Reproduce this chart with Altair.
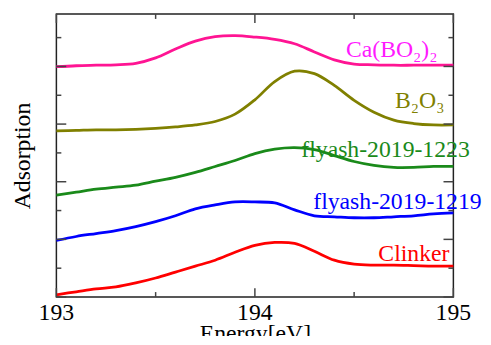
import altair as alt
import pandas as pd

energy = [193.0, 193.1, 193.2, 193.3, 193.4, 193.5, 193.6, 193.7, 193.8, 193.9,
          194.0, 194.1, 194.2, 194.3, 194.4, 194.5, 194.6, 194.7, 194.8, 194.9, 195.0]

ca_bo2 = [3.995, 4.012, 4.021, 4.029, 4.055, 4.149, 4.303, 4.440, 4.517, 4.534,
          4.509, 4.469, 4.394, 4.252, 4.115, 4.041, 4.029, 4.021, 4.021, 4.021, 4.021]
b2o3 = [2.882, 2.890, 2.899, 2.899, 2.908, 2.925, 2.950, 2.985, 3.045, 3.173,
        3.421, 3.738, 3.918, 3.875, 3.670, 3.413, 3.207, 3.070, 3.010, 2.985, 2.985]
fly1223 = [1.769, 1.820, 1.872, 1.906, 1.940, 2.009, 2.077, 2.163, 2.265, 2.368,
           2.488, 2.565, 2.591, 2.557, 2.454, 2.351, 2.283, 2.248, 2.248, 2.265, 2.265]
fly1219 = [0.981, 1.050, 1.101, 1.152, 1.221, 1.307, 1.409, 1.529, 1.598, 1.649,
           1.649, 1.632, 1.512, 1.409, 1.392, 1.375, 1.375, 1.392, 1.409, 1.443, 1.461]
clinker = [0.039, 0.091, 0.142, 0.176, 0.245, 0.330, 0.433, 0.536, 0.639, 0.776,
           0.896, 0.947, 0.930, 0.793, 0.639, 0.570, 0.553, 0.553, 0.545, 0.536, 0.536]

series_names = ["Ca(BO2)2", "B2O3", "flyash-2019-1223", "flyash-2019-1219", "Clinker"]
series_values = [ca_bo2, b2o3, fly1223, fly1219, clinker]
line_colors = ["#ff1493", "#808000", "#1a8a1a", "#0000ff", "#ff0000"]
label_colors = ["#ff1aff", "#808000", "#1a8a1a", "#0000ff", "#ff0000"]

label_texts = ["Ca(BO\u2082)\u2082", "B\u2082O\u2083", "flyash-2019-1223", "flyash-2019-1219", "Clinker"]
label_energy = [194.92, 194.955, 194.234, 194.294, 194.98]
label_value = [4.166, 3.276, 2.437, 1.529, 0.622]
label_align = ["right", "right", "left", "left", "right"]

x_major = [193, 194, 195]
x_major_labels = ["193", "194", "195"]
x_minor = [193.5, 194.5]
y_major = [0, 1, 2, 3, 4]
y_minor = [0.5, 1.5, 2.5, 3.5, 4.5]

W, H = 402, 286.6
FONT = "Times New Roman, Liberation Serif, serif"

rows = []
for name, vals in zip(series_names, series_values):
    for e, v in zip(energy, vals):
        rows.append({"series": name, "energy": e, "value": v})
df = pd.DataFrame(rows)

xs = alt.Scale(domain=[193, 195], nice=False, zero=False)
ys = alt.Scale(domain=[0, 4.91], nice=False, zero=False)

x_axis = alt.Axis(labels=False, ticks=False, domain=False, grid=False,
                  title="Energy[eV]", titleFont=FONT,
                  titleFontSize=24, titleFontWeight="normal", titleColor="black",
                  titlePadding=25)
y_axis = alt.Axis(labels=False, ticks=False, domain=False, grid=False,
                  title="Adsorption", titleFont=FONT, titleFontSize=24,
                  titleFontWeight="normal", titleColor="black", titlePadding=22)

def X(field="energy:Q"):
    return alt.X(field, scale=xs, axis=x_axis)

def Y(field="value:Q"):
    return alt.Y(field, scale=ys, axis=y_axis)

lines = alt.Chart(df).mark_line(strokeWidth=2.8, interpolate="catmull-rom").encode(
    x=X(), y=Y(),
    color=alt.Color("series:N", scale=alt.Scale(domain=series_names, range=line_colors),
                    legend=None),
    detail="series:N",
)

TICK_COLOR = "#444444"
def xticks(vals, length):
    d = pd.DataFrame({"energy": vals})
    b = alt.Chart(d).mark_rule(color=TICK_COLOR, strokeWidth=1.5).encode(
        x=X(), y=alt.value(H), y2=alt.value(H - length))
    t = alt.Chart(d).mark_rule(color=TICK_COLOR, strokeWidth=1.5).encode(
        x=X(), y=alt.value(0), y2=alt.value(length))
    return [b, t]

def yticks(vals, length):
    d = pd.DataFrame({"value": vals})
    l = alt.Chart(d).mark_rule(color=TICK_COLOR, strokeWidth=1.5).encode(
        y=Y(), x=alt.value(0), x2=alt.value(length))
    r = alt.Chart(d).mark_rule(color=TICK_COLOR, strokeWidth=1.5).encode(
        y=Y(), x=alt.value(W), x2=alt.value(W - length))
    return [l, r]

tick_layers = xticks(x_major, 9) + xticks(x_minor, 5) + yticks(y_major, 10) + yticks(y_minor, 5)

tick_label_df = pd.DataFrame({"energy": x_major, "t": x_major_labels})
tick_labels = alt.Chart(tick_label_df).mark_text(
    font=FONT, fontSize=24, align="center", baseline="alphabetic", color="black"
).encode(x=X(), y=alt.value(H + 23), text="t:N")

label_layers = []
for name, txt, e, v, al, col in zip(series_names, label_texts, label_energy, label_value,
                                    label_align, label_colors):
    ldf = pd.DataFrame({"energy": [e], "value": [v], "t": [txt]})
    label_layers.append(alt.Chart(ldf).mark_text(font=FONT, fontSize=24, align=al,
                                                 baseline="alphabetic", color=col).encode(
        x=X(), y=Y(), text="t:N"))

chart = alt.layer(*([lines] + tick_layers + [tick_labels] + label_layers)).properties(
    width=W, height=H,
    autosize=alt.AutoSizeParams(type="none"),
    padding={"left": 49, "top": 4, "right": 30, "bottom": 37},
    background="white",
).configure_view(stroke="#222222", strokeWidth=1.5)

chart.save("out.html", embed_options={"renderer": "svg", "actions": False})
